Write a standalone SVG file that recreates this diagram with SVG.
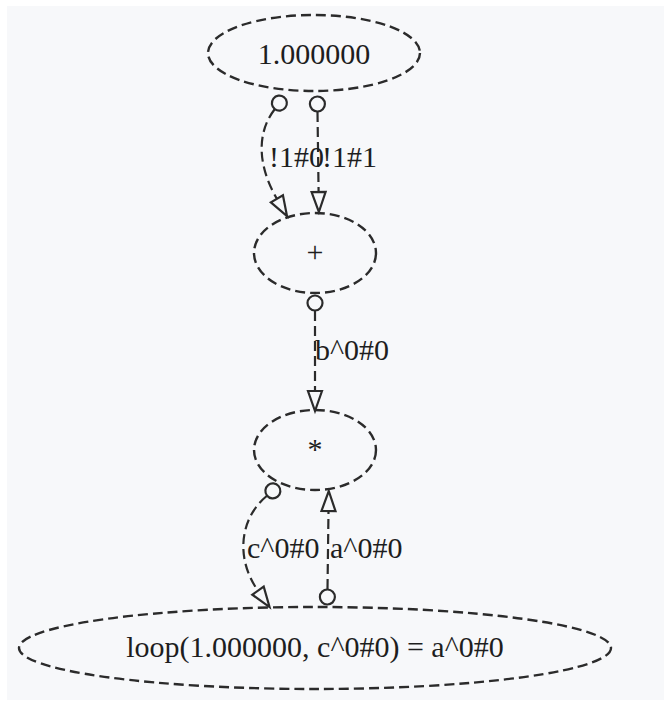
<svg xmlns="http://www.w3.org/2000/svg" width="667" height="702" viewBox="0 0 667 702">
  <style>
    .node ellipse { fill: none; stroke: #2b2b2b; stroke-width: 2.4; stroke-dasharray: 10 5; }
    .node text, .label { font-family: "Liberation Serif", "Times New Roman", serif; font-size: 30px; fill: #1e1e1e; }
    .node text { text-anchor: middle; }
    .edge { fill: none; stroke: #2b2b2b; stroke-width: 2.2; stroke-dasharray: 10 5; marker-start: url(#odot); marker-end: url(#empty); }
  </style>
  <defs>
    <!-- hollow triangle arrowhead: base sits on the path end -->
    <marker id="empty" markerUnits="userSpaceOnUse" markerWidth="24" markerHeight="18" refX="0" refY="8" orient="auto" overflow="visible">
      <path d="M0,1 L20,8 L0,15 Z" fill="#f7f8fa" stroke="#2b2b2b" stroke-width="2.2"/>
    </marker>
    <!-- hollow circle tail: circle lies just behind the path start -->
    <marker id="odot" markerUnits="userSpaceOnUse" markerWidth="20" markerHeight="20" refX="16" refY="9" orient="auto" overflow="visible">
      <circle cx="8" cy="9" r="7.5" fill="#f7f8fa" stroke="#2b2b2b" stroke-width="2.2"/>
    </marker>
  </defs>

  <rect x="7" y="6" width="657" height="694" fill="#f7f8fa"/>

  <g id="edges">
    <path class="edge" d="M274.5,109.5 C255,135 259.2,168.6 276.9,198.8"/>
    <path class="edge" d="M317.5,112 L318.6,192"/>
    <path class="edge" d="M315,311 L315,391"/>
    <path class="edge" d="M266.7,496 C240,518 234.9,558 258,590.7"/>
    <path class="edge" d="M327.5,589 L328.5,511"/>
    <text class="label" x="269" y="167">!1#0</text>
    <text class="label" x="377" y="167" text-anchor="end">!1#1</text>
    <text class="label" x="315" y="360">b^0#0</text>
    <text class="label" x="247" y="558">c^0#0</text>
    <text class="label" x="330" y="558">a^0#0</text>
  </g>

  <g id="n_const" class="node">
    <ellipse cx="314" cy="53" rx="106" ry="38"/>
    <text x="314" y="64">1.000000</text>
  </g>
  <g id="n_add" class="node">
    <ellipse cx="315" cy="253" rx="61" ry="40"/>
    <text x="315" y="262">+</text>
  </g>
  <g id="n_mul" class="node">
    <ellipse cx="315" cy="450" rx="61" ry="40"/>
    <text x="315" y="459">*</text>
  </g>
  <g id="n_loop" class="node">
    <ellipse cx="315" cy="648" rx="296" ry="41"/>
    <text x="315" y="657">loop(1.000000, c^0#0) = a^0#0</text>
  </g>
</svg>
